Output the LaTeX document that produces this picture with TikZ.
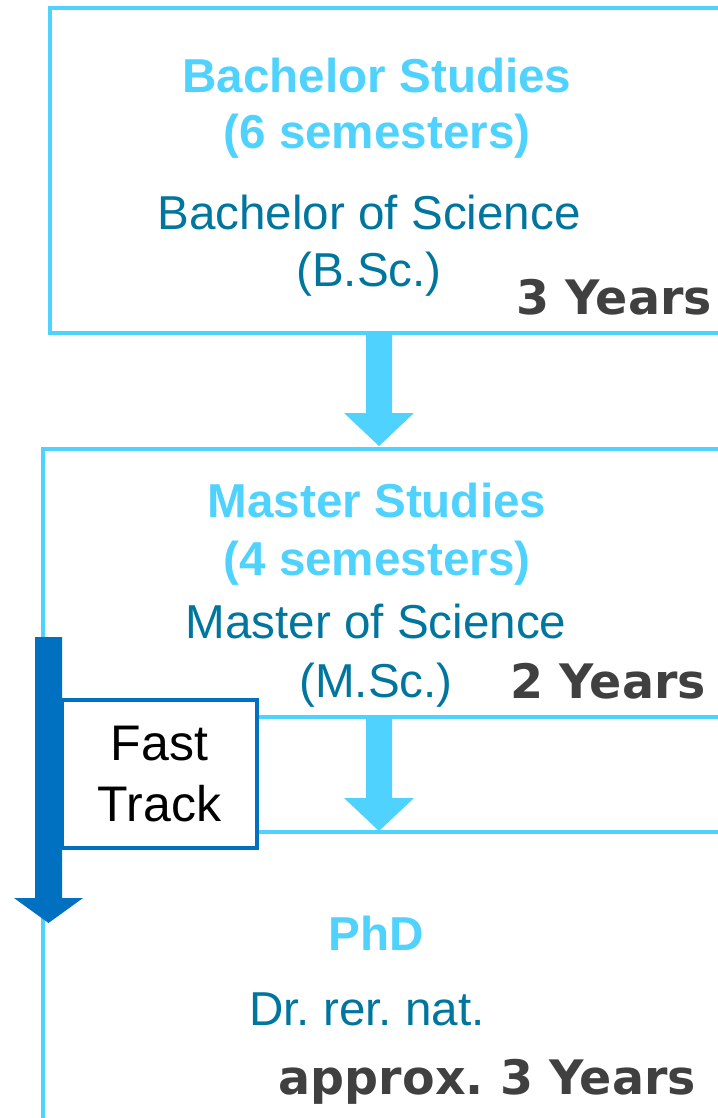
\documentclass[tikz,border=0pt]{standalone}
\usepackage{fontspec}
\setmainfont{Liberation Sans}
\newfontfamily\yearsfont{DejaVu Sans}
\usetikzlibrary{calc}
\definecolor{lightblue}{RGB}{80,210,255}
\definecolor{tealtext}{RGB}{0,118,158}
\definecolor{darkblue}{RGB}{0,112,192}
\definecolor{yeargray}{RGB}{64,64,64}
\frenchspacing
\newcommand{\blockarrow}[6] % from, to, shaft half width, head half width, head length, colour
{
	% shaft and head in one outline
	\fill[#6] let \p1=(#1), \p2=(#2) in
		(\x1-#3pt,\y1) -- (\x1-#3pt,\y2+#5pt) -- (\x1-#4pt,\y2+#5pt) -- (\x2,\y2)
		-- (\x1+#4pt,\y2+#5pt) -- (\x1+#3pt,\y2+#5pt) -- (\x1+#3pt,\y1) -- cycle;
}

\begin{document}
\begin{tikzpicture}[x=1pt, y=-1pt,
	frame/.style={draw=lightblue, line width=4.5pt},
	degree/.style={inner sep=0pt, anchor=base, font=\fontsize{47.6}{57}\selectfont\bfseries, text=lightblue},
	title/.style={inner sep=0pt, anchor=base, font=\fontsize{47.6}{57}\selectfont, text=tealtext},
	years/.style={inner sep=0pt, anchor=base, font=\fontsize{47.5}{57}\selectfont\yearsfont\bfseries, text=yeargray},
	fastbox/.style={draw=darkblue, line width=4pt, fill=white, minimum width=195pt, minimum height=148pt, align=center, font=\fontsize{50}{61}\selectfont}]
	\useasboundingbox (0,0) rectangle (717,1118);
	% page is 717 x 1118, boxes run out at the right edge
	\draw[frame] (50,8) rectangle (740,333);
	\draw[frame] (740,449) -- (43,449) -- (43,1130);
	\draw[frame] (257,717) -- (740,717);
	\draw[frame] (257,832) -- (740,832);
	
	% bachelor
	\node[degree] (bsc) at (377,93) {Bachelor Studies};
	\node[degree] (bscsem) at (377,149) {(6 semesters)};
	\node[title] (bsctitle) at (369,229) {Bachelor of Science};
	\node[title] (bscshort) at (369,286) {(B.Sc.)};
	\node[years, anchor=base east] (bscyears) at (712,314) {3 Years};
	
	% master
	\node[degree] (msc) at (377,517) {Master Studies};
	\node[degree] (mscsem) at (377,575) {(4 semesters)};
	\node[title] (msctitle) at (376,638) {Master of Science};
	\node[title] (mscshort) at (376,697) {(M.Sc.)};
	\node[years, anchor=base east] (mscyears) at (706,698) {2 Years};
	
	% phd
	\node[degree] (phd) at (376,950) {PhD};
	\node[title] (phdtitle) at (367,1025) {Dr. rer. nat.};
	\node[years, anchor=base east] (phdyears) at (696,1094) {approx. 3 Years};
	
	% arrows between the stages
	\coordinate (bscout) at (379,333);
	\coordinate (mscin) at (379,446);
	\coordinate (mscout) at (379,717);
	\coordinate (phdin) at (379,831);
	\blockarrow{bscout}{mscin}{13}{35}{33}{lightblue};
	\blockarrow{mscout}{phdin}{13}{35}{33}{lightblue};
	
	% fast track
	\node[fastbox] (fast) at (159.5,774) {Fast\\Track};
	\coordinate (fastin) at (48.5,637);
	\coordinate (fastout) at (48.5,923);
	\blockarrow{fastin}{fastout}{13.5}{34.5}{25}{darkblue};
\end{tikzpicture}
\end{document}
